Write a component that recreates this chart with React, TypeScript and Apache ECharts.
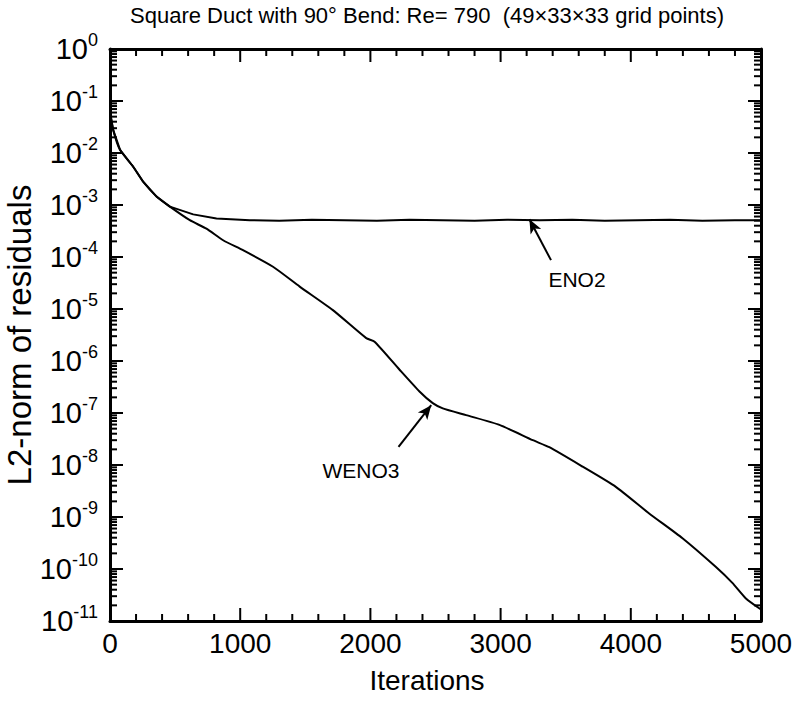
import React, { useEffect, useRef } from "react";
import * as echarts from "echarts";

const FONT = '"Liberation Sans", Arial, Helvetica, sans-serif';

const titleText = "Square Duct with 90\u00b0 Bend: Re= 790  (49\u00d733\u00d733 grid points)";
const xAxisTitle = "Iterations";
const yAxisTitle = "L2-norm of residuals";

const wenoIter = [0, 25, 77, 177, 255, 358, 460, 613, 741, 869, 1022, 1252, 1457, 1712, 1968, 2032, 2224, 2377, 2479, 2556, 2735, 2991, 3247, 3374, 3630, 3885, 4141, 4397, 4652, 4780, 4882, 5000];
const wenoVal = [6.2e-2, 2.75e-2, 1.15e-2, 5.5e-3, 2.8e-3, 1.45e-3, 9.3e-4, 5.1e-4, 3.5e-4, 2.1e-4, 1.35e-4, 6.5e-5, 2.7e-5, 9.5e-6, 2.75e-6, 2.35e-6, 6.8e-7, 2.6e-7, 1.55e-7, 1.23e-7, 9.1e-8, 5.9e-8, 3.0e-8, 2.2e-8, 9.3e-9, 3.8e-9, 1.17e-9, 3.9e-10, 1.1e-10, 5.4e-11, 2.75e-11, 1.66e-11];

const enoIter = [0, 25, 77, 177, 255, 358, 460, 639, 818, 1074, 1300, 1550, 1800, 2050, 2300, 2550, 2800, 3050, 3300, 3550, 3800, 4050, 4300, 4550, 4800, 5000];
const enoVal = [6.2e-2, 2.75e-2, 1.15e-2, 5.5e-3, 2.8e-3, 1.45e-3, 9.3e-4, 6.6e-4, 5.5e-4, 5.1e-4, 5.0e-4, 5.2e-4, 5.1e-4, 5.0e-4, 5.2e-4, 5.1e-4, 5.0e-4, 5.2e-4, 5.1e-4, 5.2e-4, 5.0e-4, 5.1e-4, 5.2e-4, 5.0e-4, 5.1e-4, 5.1e-4];

// annotation arrows: [tailIter, tailVal, tipIter, tipVal]
const enoArrow = [3387, 8.7e-5, 3221, 5.3e-4];
const wenoArrow = [2216, 2.24e-8, 2467, 1.41e-7];

const xMajorTicks = [0, 1000, 2000, 3000, 4000, 5000];
const xMinorTicks = [200, 400, 600, 800, 1200, 1400, 1600, 1800, 2200, 2400, 2600, 2800, 3200, 3400, 3600, 3800, 4200, 4400, 4600, 4800];
const decadeExps = [-11, -10, -9, -8, -7, -6, -5, -4, -3, -2, -1, 0];
const minorMults = [2, 3, 4, 5, 6, 7, 8, 9];

function xTickSeries(ticks: number[], len: number) {
  return {
    type: "custom",
    silent: true,
    clip: false,
    z: 5,
    encode: { x: 0, y: 1 },
    data: ticks.map((t) => [t, 1e-5]),
    renderItem: (params: any, api: any) => {
      const x = api.coord([api.value(0), 1e-5])[0];
      const cs = params.coordSys;
      const st = { stroke: "#000", lineWidth: 2 };
      const b = cs.y + cs.height;
      return {
        type: "group",
        children: [
          { type: "line", shape: { x1: x, y1: b, x2: x, y2: b - len }, style: st },
          { type: "line", shape: { x1: x, y1: cs.y, x2: x, y2: cs.y + len }, style: st },
        ],
      };
    },
  };
}

function yTickSeries(ticks: number[], len: number) {
  return {
    type: "custom",
    silent: true,
    clip: false,
    z: 5,
    encode: { x: 0, y: 1 },
    data: ticks.map((t) => [0, t]),
    renderItem: (params: any, api: any) => {
      const y = api.coord([0, api.value(1)])[1];
      const cs = params.coordSys;
      const st = { stroke: "#000", lineWidth: 2 };
      return {
        type: "group",
        children: [
          { type: "line", shape: { x1: cs.x, y1: y, x2: cs.x + len, y2: y }, style: st },
          { type: "line", shape: { x1: cs.x + cs.width - len, y1: y, x2: cs.x + cs.width, y2: y }, style: st },
        ],
      };
    },
  };
}

export default function App() {
  const ref = useRef<HTMLDivElement>(null);
  useEffect(() => {
    if (!ref.current) return;
    const chart = echarts.init(ref.current, null, { renderer: "svg" });
    const yMinor: number[] = [];
    decadeExps.slice(0, -1).forEach((e) => minorMults.forEach((m) => yMinor.push(m * Math.pow(10, e))));
    const yMajor = decadeExps.map((e) => Math.pow(10, e));
    const axisLine = { show: true, onZero: false, lineStyle: { color: "#000", width: 3 } };
    const xCommon = {
      type: "value" as const,
      min: 0,
      max: 5000,
      interval: 1000,
      axisLine,
      axisTick: { show: false },
      minorTick: { show: false },
      splitLine: { show: false },
    };
    const yCommon = {
      type: "log" as const,
      logBase: 10,
      min: 1e-11,
      max: 1,
      interval: 1,
      axisLine,
      axisTick: { show: false },
      splitLine: { show: false },
    };
    const option: any = {
      animation: false,
      backgroundColor: "#fff",
      grid: { left: 110, right: 40, top: 49, bottom: 81, containLabel: false },
      xAxis: [
        {
          ...xCommon,
          position: "bottom",
          axisLabel: {
            show: true,
            fontSize: 28,
            fontFamily: FONT,
            color: "#000",
            margin: 8,
            formatter: (v: number) => String(v),
          },
        },
        { ...xCommon, position: "top", axisLabel: { show: false } },
      ],
      yAxis: [
        {
          ...yCommon,
          position: "left",
          axisLabel: {
            show: true,
            margin: 12,
            formatter: (v: number) => {
              const e = Math.round(Math.log10(v));
              return `{b|10}{s|${e}}`;
            },
            rich: {
              b: { fontSize: 29, fontFamily: FONT, color: "#000", lineHeight: 36 },
              s: { fontSize: 18, fontFamily: FONT, color: "#000", verticalAlign: "top", lineHeight: 18 },
            },
          },
        },
        { ...yCommon, position: "right", axisLabel: { show: false } },
      ],
      graphic: [
        { type: "text", x: 427, y: 15, style: { text: titleText, font: `22px ${FONT}`, fill: "#000", textAlign: "center", textVerticalAlign: "middle" } },
        { type: "text", x: 427, y: 680, style: { text: xAxisTitle, font: `28px ${FONT}`, fill: "#000", textAlign: "center", textVerticalAlign: "middle" } },
        { type: "text", x: 19, y: 335, rotation: Math.PI / 2, style: { text: yAxisTitle, font: `33px ${FONT}`, fill: "#000", textAlign: "center", textVerticalAlign: "middle" } },
        { type: "text", x: 577, y: 279, style: { text: "ENO2", font: `21px ${FONT}`, fill: "#000", textAlign: "center", textVerticalAlign: "middle" } },
        { type: "text", x: 361, y: 470, style: { text: "WENO3", font: `21px ${FONT}`, fill: "#000", textAlign: "center", textVerticalAlign: "middle" } },
      ],
      series: [
        {
          type: "line",
          name: "ENO2",
          data: enoIter.map((x, i) => [x, enoVal[i]]),
          showSymbol: false,
          symbol: "none",
          lineStyle: { color: "#000", width: 2 },
          z: 3,
        },
        {
          type: "line",
          name: "WENO3",
          data: wenoIter.map((x, i) => [x, wenoVal[i]]),
          showSymbol: false,
          symbol: "none",
          smooth: 0.2,
          lineStyle: { color: "#000", width: 2 },
          z: 3,
          markLine: {
            silent: true,
            symbol: ["none", "arrow"],
            symbolSize: [9, 14],
            label: { show: false },
            lineStyle: { color: "#000", width: 2, type: "solid" },
            data: [
              [{ coord: [enoArrow[0], enoArrow[1]] }, { coord: [enoArrow[2], enoArrow[3]] }],
              [{ coord: [wenoArrow[0], wenoArrow[1]] }, { coord: [wenoArrow[2], wenoArrow[3]] }],
            ],
          },
        },
        xTickSeries(xMajorTicks, 13),
        xTickSeries(xMinorTicks, 7),
        yTickSeries(yMajor, 13),
        yTickSeries(yMinor, 7),
      ],
    };
    chart.setOption(option);
    return () => chart.dispose();
  }, []);
  return <div ref={ref} style={{ position: "fixed", left: 0, top: 0, width: 801, height: 702 }} />;
}
